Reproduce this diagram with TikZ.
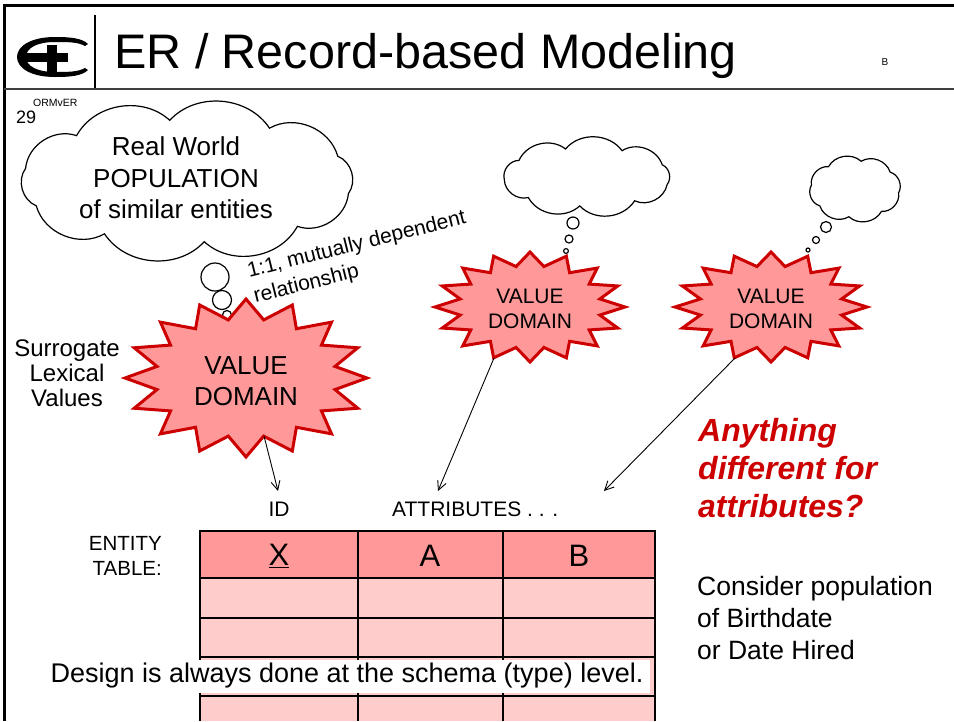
\documentclass[tikz,border=0pt]{standalone}
\usepackage{fontspec}
\setmainfont{Liberation Sans}
\usetikzlibrary{arrows.meta,calc}
\definecolor{starfill}{HTML}{FF9999}
\definecolor{starline}{HTML}{CC0000}
\definecolor{rowfill}{HTML}{FFCCCC}
\definecolor{hdrfill}{HTML}{FF9999}
\definecolor{askred}{HTML}{CC0000}
\newcommand{\fs}[2]{\fontsize{#1}{#2}\selectfont}
\newcommand{\burststar}[4]{%
  \begin{scope}[shift={(#1,#2)}]
    \draw[burst] (90:#3 and #4) \foreach \k in {1,...,31}{ -- ({90+\k*11.25}:{(1-0.25*mod(\k,2))*#3} and {(1-0.25*mod(\k,2))*#4}) } -- cycle;
  \end{scope}}
% cloud: cx, cy, a, b, puffs, start angle
\newcommand{\cloudblob}[6]{%
  \begin{scope}[shift={(#1,#2)}]
    \draw[cloudline] (#6:#3 and #4) \foreach \i in {1,...,#5}{ to[bend left=52] ({#6+\i*360/#5}:#3 and #4) } -- cycle;
  \end{scope}}
\tikzset{
  cloudline/.style={draw=black, fill=white, line width=1.2pt},
  bubble/.style={draw=black, fill=white, line width=1.2pt},
  burst/.style={draw=starline, fill=starfill, line width=3pt, line join=miter},
  link/.style={draw=black, line width=0.9pt, -{Straight Barb[length=9pt,width=9pt]}},
  gridline/.style={draw=black, line width=2pt},
  lbl/.style={inner sep=0pt, text=black},
}
\begin{document}
\begin{tikzpicture}[x=1pt,y=-1pt]
\useasboundingbox (0,0) rectangle (954,721);
% frame
\draw[line width=3pt] (4,721) -- (4,5) -- (954,5);
\draw[line width=1.5pt, black!75] (4,89) -- (954,89);
\draw[line width=2pt] (95,15) -- (95,88);
% logo
\fill (88,44) .. controls (82,38) and (70,37) .. (55,37) .. controls (31,37) and (17,46) .. (17,57)
  .. controls (17,68) and (31,77) .. (55,77) .. controls (70,77) and (82,76) .. (88,70)
  -- (85,68) .. controls (78,72) and (68,72) .. (55,72) .. controls (37,72) and (26,66) .. (26,57)
  .. controls (26,48) and (37,42) .. (55,42) .. controls (68,42) and (78,42) .. (85,46) -- cycle;
\fill (25,53) rectangle (68,62);
\fill (47,45) rectangle (57,73);
% title
\node[lbl, anchor=base west, font=\fs{48.5}{56}] (title) at (114,68) {ER / Record-based Modeling};
\node[lbl, font=\fs{10}{12}] (bmark) at (885,62) {B};
\node[lbl, anchor=base west, font=\fs{18}{20}] (pnum) at (16,123) {29};
\node[lbl, anchor=base west, font=\fs{10.5}{12}] (pcode) at (33,106) {ORMvER};
% clouds
\cloudblob{187}{181}{165}{61}{10}{12}
\cloudblob{587}{177}{83}{29}{9}{15}
\cloudblob{855}{189}{44}{28}{8}{8}
\node[lbl, align=center, font=\fs{26}{31.5}] (c1txt) at (176,178) {Real World\\POPULATION\\of similar entities};
% bubbles
\draw[bubble] (215,277) circle (14);
\draw[bubble] (222,300) circle (9.5);
\draw[bubble] (227,315) circle (4.5);
\draw[bubble] (573,223) circle (6);
\draw[bubble] (569,239) circle (4);
\draw[bubble] (566,251) circle (2.4);
\draw[bubble] (826,227) circle (5.5);
\draw[bubble] (816,240) circle (3.5);
\draw[bubble] (808,250) circle (2);
% relationship label
\node[lbl, anchor=west, align=left, rotate=14, font=\fs{21}{26}] (rel) at (251,285) {1:1, mutually dependent\\relationship};
% stars
\burststar{246}{378}{121}{79}
\burststar{530}{307}{95}{55}
\burststar{771}{307}{96}{55}
\node[lbl, align=center, font=\fs{26}{31}] (vd1) at (246,381) {VALUE\\DOMAIN};
\node[lbl, align=center, font=\fs{21}{25}] (vd2) at (530,309) {VALUE\\DOMAIN};
\node[lbl, align=center, font=\fs{21}{25}] (vd3) at (771,309) {VALUE\\DOMAIN};
\node[lbl, align=center, font=\fs{24}{25}] (surr) at (67,373) {Surrogate\\Lexical\\Values};
% column labels
\node[lbl, font=\fs{21}{24}] (idl) at (279,509) {ID};
\node[lbl, anchor=west, font=\fs{21}{24}] (attl) at (392,509) {ATTRIBUTES . . .};
\coordinate (s1out) at (264,436);
\coordinate (s2out) at (494,358);
\coordinate (s3out) at (735,358);
\coordinate (idtip) at (278,491);
\coordinate (atip) at (438,491);
\coordinate (btip) at (604,491);
\draw[link] (s1out) -- (idtip);
\draw[link] (s2out) -- (atip);
\draw[link] (s3out) -- (btip);
% table
\node[lbl, anchor=east, align=right, font=\fs{20.5}{25}] (etab) at (162,556) {ENTITY\\TABLE:};
\fill[hdrfill] (200,531) rectangle (655,578);
\fill[rowfill] (200,578) rectangle (655,721);
\draw[gridline] (200,721) -- (200,531) -- (655,531) -- (655,721);
\draw[gridline] (358,531) -- (358,721);
\draw[gridline] (503,531) -- (503,721);
\foreach \yy in {578,618,657,696} { \draw[gridline] (200,\yy) -- (655,\yy); }
\node[lbl, font=\fs{31}{34}] (hx) at (279,556) {\underline{X}};
\node[lbl, font=\fs{31}{34}] (ha) at (430,556) {A};
\node[lbl, font=\fs{31}{34}] (hb) at (579,556) {B};
\node[fill=white, inner sep=0pt, minimum width=605, minimum height=33, font=\fs{27}{30}] (design) at (347,676) {Design is always done at the schema (type) level.};
% right notes
\node[lbl, anchor=west, align=left, text=askred, font=\fs{32}{38}\bfseries\itshape] (ask) at (698,468) {Anything\\different for\\attributes?};
\node[lbl, anchor=west, align=left, font=\fs{26.5}{32}] (cons) at (697,618) {Consider population\\of Birthdate\\or Date Hired};
\end{tikzpicture}
\end{document}
